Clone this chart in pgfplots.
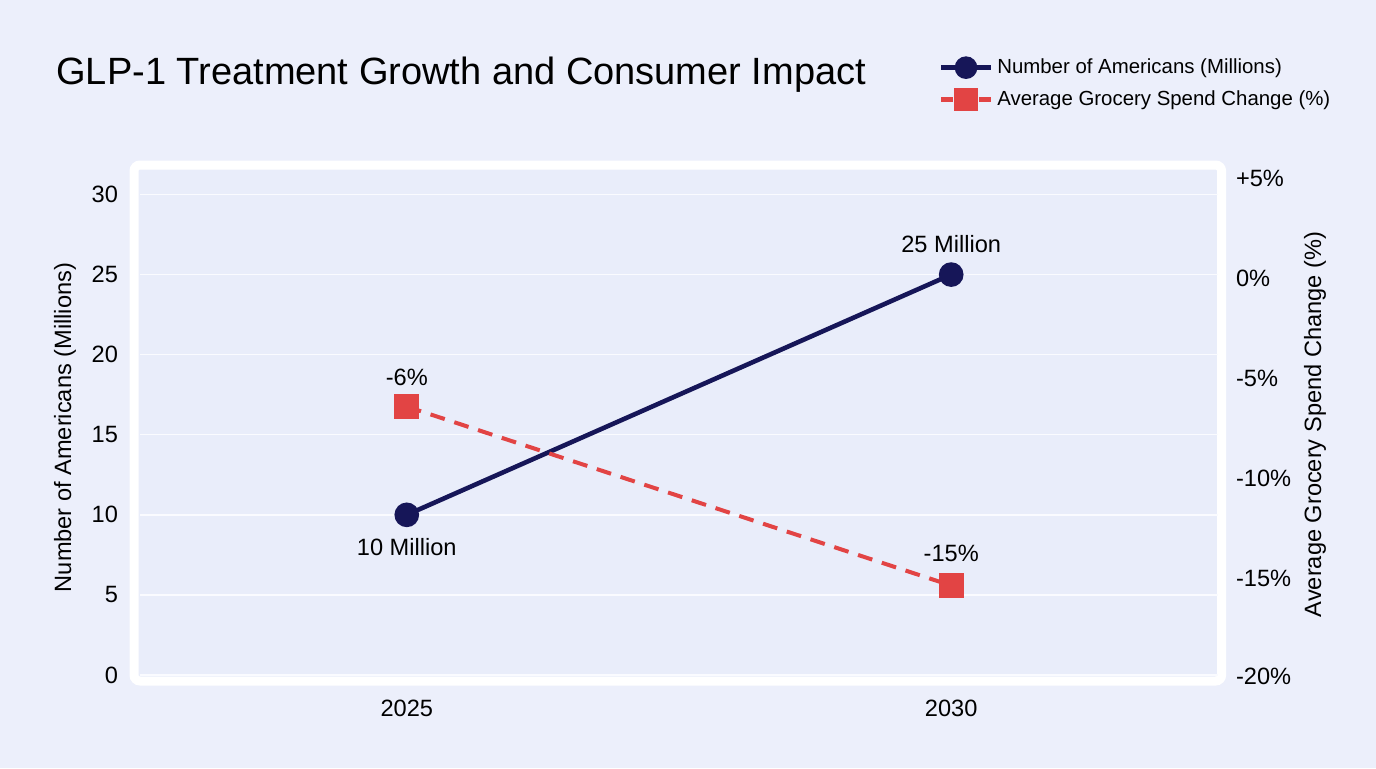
\documentclass[border=0pt]{standalone}
\usepackage{fontspec}
\setmainfont{Liberation Sans}
\usepackage{pgfplots}
\pgfplotsset{compat=1.18}
\definecolor{bgc}{RGB}{236,239,251}
\definecolor{plotbg}{RGB}{233,237,250}
\definecolor{navy}{RGB}{22,22,88}
\definecolor{redc}{RGB}{226,68,68}
\definecolor{gridc}{RGB}{250,251,255}
\newcommand{\tfont}{\fontsize{11.8}{14}\selectfont}
\begin{document}
\begin{tikzpicture}[x=1pt,y=1pt]
\fill[bgc] (0,0) rectangle (688,384);
\fill[plotbg] (69,45) rectangle (609,299);
\draw[white, line width=4.5pt, rounded corners=3pt] (67,43.5) rectangle (610.8,301.5);
\node[anchor=base west, inner sep=0pt, font=\fontsize{19}{22}\selectfont] at (28,341.5) {GLP-1 Treatment Growth and Consumer Impact};
\begin{axis}[
  at={(70pt,45.5pt)}, anchor=south west, scale only axis,
  width=539pt, height=253.5pt,
  xmin=2022.55, xmax=2032.45, ymin=-0.125, ymax=31.53,
  axis line style={draw=none}, major tick length=0pt,
  xtick={2025,2030}, xticklabels={2025,2030},
  ytick={0,5,...,30},
  ymajorgrids, grid style={gridc, line width=0.7pt},
  ticklabel style={font=\tfont, text=black},
  /pgf/number format/assume math mode=true,
  yticklabel style={xshift=-7.5pt},
  xticklabel style={yshift=-8pt},
  ylabel={Number of Americans (Millions)},
  ylabel style={at={(axis description cs:-0.0696,0.492)}, anchor=center, font=\tfont},
  clip=false,
]
\addplot[navy, line width=2.3pt, mark=*, mark size=5pt, mark options={solid}] coordinates {(2025,10) (2030,25)};
\node[font=\tfont] at (axis cs:2025,10) [yshift=-16pt] {10 Million};
\node[font=\tfont] at (axis cs:2030,25) [yshift=15.5pt] {25 Million};
\end{axis}
\begin{axis}[
  at={(70pt,45.5pt)}, anchor=south west, scale only axis,
  width=539pt, height=253.5pt,
  xmin=2022.55, xmax=2032.45, ymin=-19.6, ymax=5.9,
  axis line style={draw=none}, major tick length=0pt,
  axis y line*=right, axis x line=none,
  ytick={5.47,0.44,-4.59,-9.62,-14.65,-19.58},
  yticklabels={+5\%,0\%,-5\%,-10\%,-15\%,-20\%},
  ticklabel style={font=\tfont, text=black},
  yticklabel style={xshift=5.5pt},
  ylabel={Average Grocery Spend Change (\%)},
  ylabel style={at={(axis description cs:1.09,0.498)}, anchor=center, font=\tfont, rotate=0},
  clip=false,
  legend style={at={(axis description cs:0.735,1.236)}, anchor=north west, draw=none, fill=none,
    font=\fontsize{10.2}{12}\selectfont, row sep=3pt},
  legend cell align=left,
  legend image code/.code={\draw[mark repeat=2,mark phase=2] plot coordinates {(0pt,0pt) (12.5pt,0pt) (25pt,0pt)};},
]
\addlegendimage{navy, line width=2.3pt, mark=*, mark size=4.5pt, mark options={solid}}
\addlegendentry{Number of Americans (Millions)}
\addlegendimage{redc, line width=2.3pt, dash pattern=on 6pt off 13pt, mark=square*, mark size=4.8pt, mark options={solid}}
\addlegendentry{Average Grocery Spend Change (\%)}
\addplot[redc, line width=2pt, dash pattern=on 7.5pt off 5pt, mark=square*, mark size=5.2pt, mark options={solid}, forget plot] coordinates {(2025,-6) (2030,-15)};
\node[font=\tfont] at (axis cs:2025,-6) [yshift=14.5pt] {-6\%};
\node[font=\tfont] at (axis cs:2030,-15) [yshift=16pt] {-15\%};
\end{axis}
\end{tikzpicture}
\end{document}
